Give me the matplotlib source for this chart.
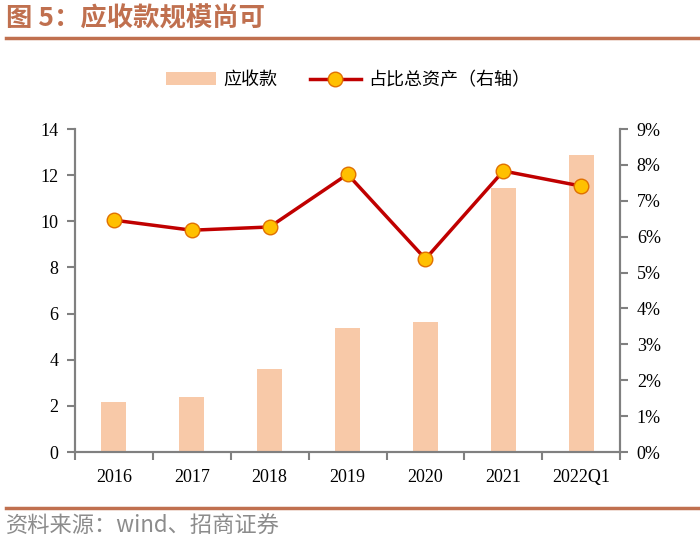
import matplotlib.pyplot as plt
import numpy as np
from matplotlib.lines import Line2D
from matplotlib.patches import Patch
from matplotlib.ticker import FuncFormatter

plt.rcParams['font.family'] = ['Noto Sans CJK SC', 'DejaVu Sans']

categories = ['2016', '2017', '2018', '2019', '2020', '2021', '2022Q1']
receivables = [2.15, 2.4, 3.6, 5.37, 5.63, 11.44, 12.87]
share_pct = [6.46, 6.18, 6.27, 7.74, 5.38, 7.83, 7.41]

bar_color = '#F8C9A8'
line_color = '#C00000'
marker_color = '#FFC000'
axis_gray = '#808080'
brand = '#C0704F'
serif = ['Liberation Serif', 'DejaVu Serif']

fig = plt.figure(figsize=(7, 5.45), dpi=100)
ax = fig.add_axes([0.107, 0.1706, 0.779, 0.5927])
ax2 = ax.twinx()

x = np.arange(len(categories))
ax.bar(x, receivables, width=0.32, color=bar_color, zorder=2)
ax2.plot(x, share_pct, color=line_color, lw=2.5, marker='o', markersize=10.5,
         markerfacecolor=marker_color, markeredgecolor='#E07000', markeredgewidth=1, zorder=3)

ax.set_xlim(-0.5, len(categories) - 0.5)
ax.set_ylim(0, 14)
ax.set_yticks(range(0, 15, 2))
ax2.set_ylim(0, 9)
ax2.set_yticks(range(0, 10))
ax2.yaxis.set_major_formatter(FuncFormatter(lambda v, p: f'{int(v)}%'))

ax.set_xticks(x)
ax.set_xticklabels(categories)
ax.set_xticks(np.arange(-0.5, len(categories)), minor=True)
ax.tick_params(axis='x', which='major', length=0, pad=12)
ax.tick_params(axis='x', which='minor', length=6, width=1.5, color=axis_gray, direction='out')
ax.tick_params(axis='y', length=6, width=1.5, color=axis_gray, direction='out', pad=6)
ax2.tick_params(axis='y', length=6, width=1.5, color=axis_gray, direction='out', pad=6)

for a in (ax, ax2):
    a.spines['top'].set_visible(False)
    for s in ('left', 'right', 'bottom'):
        a.spines[s].set_color(axis_gray)
        a.spines[s].set_linewidth(1.5)
    for lab in a.get_xticklabels() + a.get_yticklabels():
        lab.set_family(serif)
        lab.set_fontsize(13)
        lab.set_color('#000000')
ax.set_zorder(1)
ax2.set_zorder(2)
ax.patch.set_visible(False)

handles = [Patch(facecolor=bar_color, edgecolor='none'),
           Line2D([], [], color=line_color, lw=2.5, marker='o', markersize=10.5,
                  markerfacecolor=marker_color, markeredgecolor='#E07000')]
fig.legend(handles, ['应收款', '占比总资产（右轴）'], loc='center', bbox_to_anchor=(0.497, 0.853),
           ncol=2, frameon=False, fontsize=13, handlelength=2.8, columnspacing=1.8,
           handletextpad=0.4)

fig.text(0.008, 0.965, '图 5：应收款规模尚可', fontsize=19, fontweight='bold', color=brand,
         va='center', ha='left')
fig.add_artist(Line2D([0.008, 1.0], [0.93, 0.93], color=brand, lw=2.5))
fig.add_artist(Line2D([0.008, 1.0], [0.068, 0.068], color=brand, lw=2.5))
fig.text(0.008, 0.035, '资料来源：wind、招商证券', fontsize=16, color='#8C8C8C',
         va='center', ha='left')

fig.savefig('out.png', dpi=100)
